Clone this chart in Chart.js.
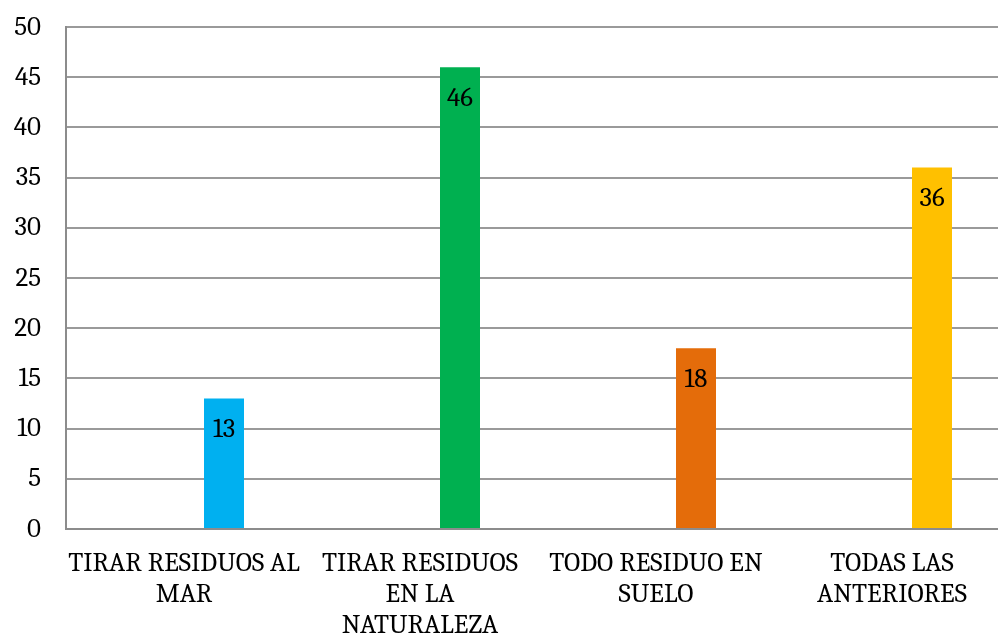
<!DOCTYPE html>
<html>
<head>
<meta charset="utf-8">
<script src="https://cdn.jsdelivr.net/npm/chart.js@4"></script>
<style>
  html, body { margin: 0; padding: 0; background: #fff; overflow: hidden; }
</style>
</head>
<body>
<canvas id="myChart" width="1012" height="635"></canvas>
<script>
const categories = [
    ['TIRAR RESIDUOS AL', 'MAR'],
    ['TIRAR RESIDUOS', 'EN LA', 'NATURALEZA'],
    ['TODO RESIDUO EN', 'SUELO'],
    ['TODAS LAS', 'ANTERIORES']
];
const values = [ 13, 46, 18, 36 ];
const blank = [ null, null, null, null ];
const barColors = [ '#00B0F0', '#00B050', '#E46C0A', '#FFC000' ];
const yTicks = [ 0, 5, 10, 15, 20, 25, 30, 35, 40, 45, 50 ];

const font = 'Cambria, "Liberation Serif", serif';

// value written inside the top of each bar
const barLabels = {
    id: 'barLabels',
    afterDatasetsDraw(chart) {
        const c = chart.ctx;
        const meta = chart.getDatasetMeta(1);
        c.save();
        c.font = '27px ' + font;
        c.fillStyle = '#000';
        c.textAlign = 'center';
        c.textBaseline = 'middle';
        meta.data.forEach((bar, i) => {
            c.fillText(values[i], bar.x, bar.y + 31);
        });
        c.restore();
    }
};

const ctx = document.getElementById('myChart').getContext('2d');

var myChart = new Chart(ctx, {
    type: 'bar',
    data: {
        labels: categories,
        datasets: [
            { label: '', data: blank },
            { label: 'Serie', data: values, backgroundColor: barColors }
        ]
    },
    options: {
        responsive: false,
        animation: false,
        categoryPercentage: 0.678,
        barPercentage: 0.5,
        layout: { padding: { top: 0, left: 0, right: 2, bottom: 0 } },
        plugins: {
            legend: { display: false },
            tooltip: { enabled: false }
        },
        scales: {
            x: {
                afterFit: (axis) => { axis.height = 106; },
                grid: { display: false },
                border: { color: '#8c8c8c', width: 2 },
                ticks: {
                    color: '#000',
                    font: { family: font, size: 27, lineHeight: 1.15 },
                    padding: 11,
                    maxRotation: 0,
                    autoSkip: false
                }
            },
            y: {
                min: 0,
                max: 50,
                afterFit: (axis) => {
                    axis.width = 66;
                    axis.paddingTop = 27;
                    axis.paddingBottom = 0;
                },
                afterBuildTicks: (axis) => { axis.ticks = yTicks.map(v => ({ value: v })); },
                grid: { color: '#9a9a9a', lineWidth: 2, tickLength: 0 },
                border: { color: '#8c8c8c', width: 2 },
                ticks: {
                    color: '#000',
                    font: { family: font, size: 27 },
                    padding: 25
                }
            }
        }
    },
    plugins: [ barLabels ]
});
</script>
</body>
</html>
